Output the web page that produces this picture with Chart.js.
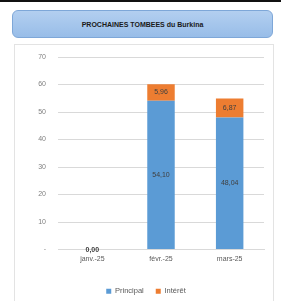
<!DOCTYPE html>
<html>
<head>
<meta charset="utf-8">
<script src="https://cdn.jsdelivr.net/npm/chart.js@4.4.0/dist/chart.umd.min.js"></script>
<style>
  html, body { margin: 0; padding: 0; background: #fff; width: 281px; height: 301px; overflow: hidden; }
  .topbar { position: absolute; left: 0; top: 0; width: 281px; height: 2px; background: #111; }
  .title {
    position: absolute; left: 12px; top: 10px; width: 259px; height: 26px;
    border: 1px solid #7ea7d8; border-radius: 6px;
    background: linear-gradient(#b3cff0, #98bde8);
    font: bold 7px "Liberation Sans", Arial, sans-serif; color: #1a1a1a;
    display: flex; align-items: center; justify-content: center;
  }
  .panel {
    position: absolute; left: 14px; top: 44px; width: 258px; height: 257px;
    border: 1px solid #e3e3e3; border-bottom: none;
  }
  canvas { display: block; }
</style>
</head>
<body>
<div class="topbar"></div>
<div class="title">PROCHAINES TOMBEES du Burkina</div>
<div class="panel"><canvas id="chart" width="258" height="257"></canvas></div>
<script>
// --- Data ---
const categories = ['janv.-25', 'févr.-25', 'mars-25'];
const principal = [0, 54.10, 48.04];
const interet = [null, 5.96, 6.87];
const yTicks = [0, 10, 20, 30, 40, 50, 60, 70];

const fmt = v => v.toFixed(2).replace('.', ',');

// --- Value labels drawn on the bars ---
const barLabels = {
    id: 'barLabels',
    afterDatasetsDraw(chart) {
        const ctx = chart.ctx;
        ctx.save();
        ctx.textAlign = 'center';
        ctx.textBaseline = 'middle';
        chart.data.datasets.forEach((ds, di) => {
            const meta = chart.getDatasetMeta(di);
            meta.data.forEach((bar, i) => {
                const v = ds.data[i];
                if (v === null || v === undefined) return;
                ctx.fillStyle = '#404040';
                if (v === 0) {
                    ctx.font = 'bold 7px "Liberation Sans", Arial, sans-serif';
                    ctx.fillText(fmt(v), bar.x, bar.y + 1);
                    return;
                }
                ctx.font = '7px "Liberation Sans", Arial, sans-serif';
                ctx.fillText(fmt(v), bar.x, (bar.y + bar.base) / 2);
            });
        });
        ctx.restore();
    }
};

new Chart(document.getElementById('chart').getContext('2d'), {
    type: 'bar',
    data: {
        labels: categories,
        datasets: [
            { label: 'Principal', data: principal, backgroundColor: '#5b9bd5', barPercentage: 0.8, categoryPercentage: 0.5 },
            { label: 'Intérêt', data: interet, backgroundColor: '#ed7d31', barPercentage: 0.8, categoryPercentage: 0.5 }
        ]
    },
    options: {
        responsive: false,
        animation: false,
        layout: { padding: { top: 12, right: 9, left: 13, bottom: -3 } },
        plugins: {
            legend: {
                position: 'bottom',
                labels: {
                    boxWidth: 5, boxHeight: 5, padding: 12,
                    color: '#595959',
                    font: { size: 7.5, family: '"Liberation Sans", Arial, sans-serif' }
                }
            },
            tooltip: { enabled: false }
        },
        scales: {
            x: {
                stacked: true,
                afterFit: s => { s.height = 26; },
                grid: { display: false, drawTicks: false },
                border: { color: '#d9d9d9' },
                ticks: { color: '#595959', font: { size: 7, family: '"Liberation Sans", Arial, sans-serif' }, padding: 5 }
            },
            y: {
                stacked: true,
                min: 0, max: 70,
                afterBuildTicks: s => { s.ticks = yTicks.map(v => ({ value: v })); },
                afterFit: s => { s.width = 30; s.paddingTop = 0; s.paddingBottom = 0; },
                grid: { color: '#d9d9d9', drawTicks: false },
                border: { display: false },
                ticks: {
                    color: '#808080', padding: 12,
                    font: { size: 7, family: '"Liberation Sans", Arial, sans-serif' },
                    callback: v => v === 0 ? '-' : v
                }
            }
        }
    },
    plugins: [barLabels]
});
</script>
</body>
</html>
